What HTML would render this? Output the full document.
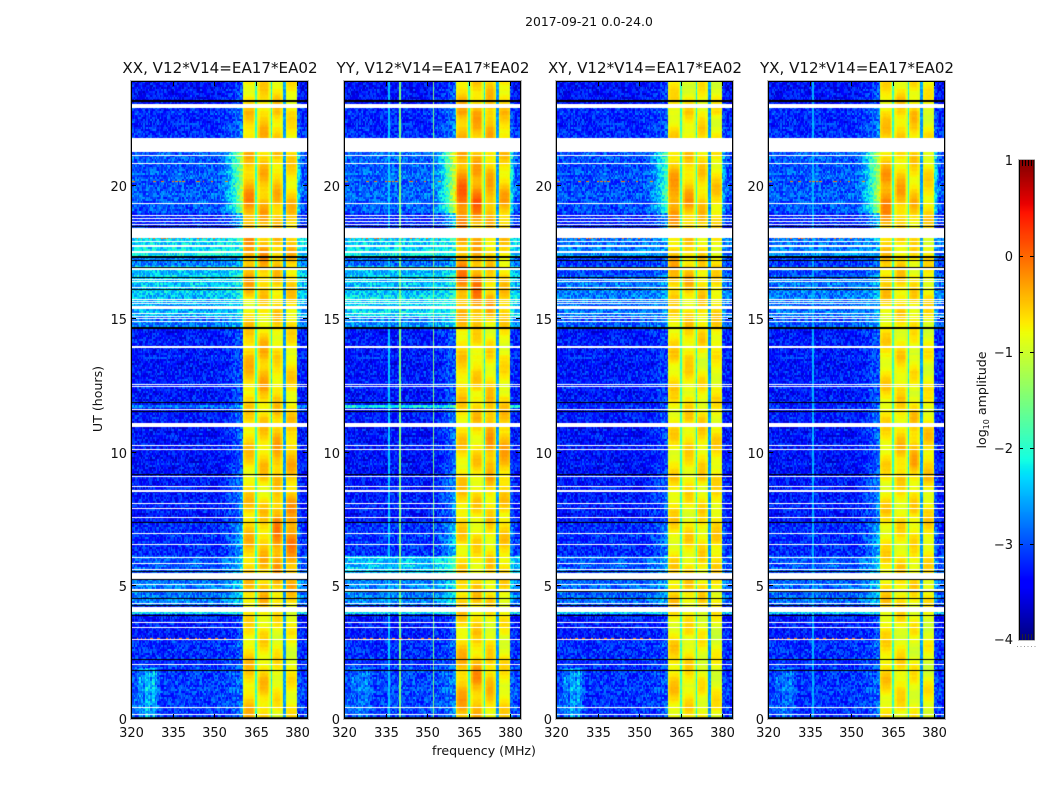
<!DOCTYPE html>
<html lang="en">
<head>
<meta charset="utf-8">
<title>2017-09-21 amplitude waterfall</title>
<style>
html,body{margin:0;padding:0;background:#fff;width:1050px;height:800px;overflow:hidden}
#figure{position:relative;width:1050px;height:800px;background:#fff}
canvas{position:absolute;display:block}
svg{position:absolute;left:0;top:0}
text{font-family:"DejaVu Sans","Liberation Sans",sans-serif;fill:#111}
</style>
</head>
<body>
<div id="figure">
<canvas id="p0" width="177" height="638" style="left:131px;top:81px"></canvas>
<canvas id="p1" width="177" height="638" style="left:344px;top:81px"></canvas>
<canvas id="p2" width="177" height="638" style="left:556px;top:81px"></canvas>
<canvas id="p3" width="177" height="638" style="left:768px;top:81px"></canvas>
<canvas id="cbar" width="15" height="480" style="left:1019px;top:160px"></canvas>
<svg id="overlay" width="1050" height="800">
<text x="589" y="26" text-anchor="middle" font-size="12.4">2017-09-21 0.0-24.0</text>
<text x="484" y="755" text-anchor="middle" font-size="12.6">frequency (MHz)</text>
<text transform="translate(102,399) rotate(-90)" text-anchor="middle" font-size="12.6">UT (hours)</text>
<text transform="translate(986,400) rotate(-90)" text-anchor="middle" font-size="12.6">log<tspan font-size="8" dy="3">10</tspan><tspan dy="-3"> amplitude</tspan></text>
</svg>
</div>
<script>
/* ---------- labels and ticks ---------- */
const panelTitles = ["XX, V12*V14=EA17*EA02","YY, V12*V14=EA17*EA02","XY, V12*V14=EA17*EA02","YX, V12*V14=EA17*EA02"];
const freqTicks = [320,335,350,365,380];
const utTicks = [0,5,10,15,20];
const colorbarTicks = [1,0,-1,-2,-3,-4];

/* ---------- flagged / dropped rows (UT hours) ---------- */
const whiteBands = [[23.08,22.91],[21.81,21.26],[21.16,21.13],[20.88,20.85],[19.37,19.34],[18.90,18.87],[18.81,18.78],[18.70,18.66],[18.58,18.55],[18.41,18.04],[17.92,17.89],[17.79,17.72],[17.56,17.49],[17.21,17.18],[16.91,16.86],[16.52,16.49],[16.45,16.39],[16.20,16.17],[15.77,15.74],[15.69,15.66],[15.61,15.58],[15.50,15.38],[15.24,15.21],[15.11,15.08],[15.03,15.00],[14.92,14.89],[14.01,13.98],[13.94,13.91],[12.57,12.54],[12.49,12.46],[11.64,11.61],[11.12,10.94],[10.27,10.24],[10.13,10.10],[9.12,9.09],[8.75,8.72],[8.60,8.57],[8.54,8.51],[8.10,8.07],[7.93,7.90],[7.58,7.55],[6.98,6.95],[6.57,6.54],[6.08,6.05],[5.85,5.82],[5.63,5.60],[5.49,5.25],[5.08,5.05],[4.88,4.80],[4.35,4.32],[4.21,4.02],[3.64,3.61],[3.46,3.43],[3.01,2.98],[2.07,2.04],[0.46,0.43],[0.20,0.17]];
const blackBands = [[23.21,23.17],[18.51,18.48],[17.37,17.31],[17.23,17.20],[16.97,16.94],[16.58,16.55],[16.15,16.11],[14.72,14.65],[11.88,11.85],[11.56,11.53],[9.19,9.16],[7.39,7.36],[5.54,5.51],[5.24,5.21],[4.79,4.76],[4.54,4.51],[4.27,4.24],[3.92,3.88],[2.25,2.22],[1.85,1.80],[0.07,0.03]];

/* ---------- low band level (log10) per UT segment ---------- */
const segmentEdges = [0,2,3,3.93,4,4.25,5.25,6.1,7.4,9,11,11.66,11.8,14.7,15.1,15.9,16.5,17,17.3,18.4,19,21.3,23,24];
const lowXX = [-3.1,-3.2,-3.3,-2.2,-3.15,-2.8,-2.95,-3.2,-3.3,-3.35,-3.3,-2.8,-3.3,-2.8,-2.5,-2.4,-2.35,-2.8,-2.25,-3.2,-2.95,-3.2,-3.35];
const lowYY = [-3.05,-3.2,-3.3,-2.2,-3.15,-2.75,-2.45,-3.15,-3.3,-3.35,-3.3,-2.2,-3.3,-2.7,-2.3,-2.45,-2.4,-2.9,-2.3,-3.2,-2.9,-3.2,-3.35];
const lowXY = [-3.15,-3.2,-3.3,-2.3,-3.2,-2.9,-2.95,-3.2,-3.3,-3.35,-3.3,-3.2,-3.3,-2.95,-2.8,-2.8,-2.95,-3.15,-2.75,-3.2,-3.0,-3.2,-3.35];
const lowYX = [-3.15,-3.2,-3.3,-2.3,-3.2,-2.9,-2.95,-3.2,-3.3,-3.35,-3.3,-3.2,-3.3,-2.95,-2.8,-2.8,-2.95,-3.15,-2.75,-3.2,-2.95,-3.2,-3.35];
const edgeRiseBySegment = [.3,.3,.3,.2,.3,.5,.7,.7,.6,.5,.5,.3,.35,.4,.3,.3,.3,.3,.3,.9,1.8,.5,.4];
const panelEdgeGain = [1,1.15,0.7,1.05];

/* ---------- high band level (log10): one row per block, one value per UT hour ---------- */
const xxBlocks = [
[-.45,-.55,-.5,-.7,-.5,-.5,-.45,-.5,-.55,-.6,-.5,-.6,-.5,-.4,-.5,-.7,-.3,-.25,-.3,-.2,-.4,-.5,-.5,-.65],
[-.5,-.5,-.6,-.65,-.45,-.5,-.4,-.55,-.6,-.5,-.5,-.55,-.4,-.35,-.55,-.65,-.4,-.3,-.4,-.35,-.45,-.5,-.4,-.6],
[-.7,-.65,-.7,-.75,-.5,-.35,-.15,-.15,-.55,-.35,-.35,-.5,-.55,-.65,-.6,-.5,-.5,-.4,-.4,-.4,-.5,-.5,-.45,-.6],
[-.65,-.7,-.75,-.8,-.55,-.3,-.15,-.15,-.5,-.4,-.45,-.6,-.6,-.6,-.65,-.55,-.55,-.45,-.45,-.5,-.6,-.6,-.65,-.65]];
const yyBlocks = [
[-.35,-.4,-.45,-.6,-.45,-.6,-.6,-.55,-.5,-.6,-.55,-.55,-.55,-.55,-.6,-.35,-.1,-.3,-.2,.1,-.2,-.4,-.35,-.5],
[-.45,-.2,-.5,-.6,-.5,-.6,-.65,-.6,-.6,-.55,-.6,-.5,-.6,-.55,-.65,-.15,-.1,-.4,-.3,.05,-.35,-.45,-.35,-.5],
[-.55,-.4,-.6,-.7,-.6,-.55,-.6,-.55,-.55,-.35,-.3,-.3,-.6,-.6,-.7,-.3,-.5,-.55,-.45,-.25,-.45,-.5,-.3,-.5],
[-.6,-.65,-.7,-.75,-.65,-.55,-.55,-.55,-.55,-.4,-.35,-.5,-.65,-.65,-.7,-.4,-.55,-.6,-.45,-.35,-.55,-.55,-.5,-.6]];
const xyBlocks = [
[-.6,-.5,-.55,-.7,-.5,-.6,-.65,-.6,-.6,-.65,-.6,-.65,-.6,-.6,-.55,-.65,-.3,-.5,-.4,-.15,-.4,-.6,-.6,-.7],
[-.65,-.6,-.65,-.7,-.55,-.6,-.6,-.65,-.65,-.6,-.6,-.6,-.6,-.6,-.55,-.6,-.4,-.55,-.5,-.3,-.5,-.6,-.6,-.7],
[-.7,-.7,-.75,-.75,-.6,-.6,-.6,-.6,-.65,-.55,-.55,-.6,-.7,-.7,-.55,-.55,-.55,-.6,-.55,-.45,-.55,-.6,-.6,-.7],
[-.7,-.75,-.8,-.8,-.65,-.6,-.55,-.6,-.65,-.6,-.6,-.65,-.7,-.75,-.6,-.55,-.6,-.65,-.6,-.5,-.6,-.7,-.7,-.75]];
const yxBlocks = [
[-.6,-.55,-.55,-.7,-.55,-.6,-.65,-.6,-.6,-.65,-.6,-.65,-.6,-.6,-.65,-.65,-.4,-.55,-.4,-.1,-.35,-.6,-.5,-.65],
[-.65,-.6,-.65,-.7,-.55,-.6,-.6,-.65,-.65,-.5,-.5,-.6,-.6,-.6,-.65,-.6,-.5,-.6,-.55,-.3,-.5,-.6,-.45,-.65],
[-.7,-.7,-.75,-.75,-.6,-.6,-.65,-.6,-.6,-.4,-.4,-.55,-.7,-.7,-.7,-.6,-.6,-.65,-.55,-.45,-.55,-.6,-.45,-.65],
[-.7,-.75,-.8,-.8,-.7,-.65,-.6,-.6,-.65,-.5,-.5,-.65,-.75,-.75,-.75,-.65,-.65,-.7,-.6,-.55,-.65,-.7,-.7,-.75]];
const blockStarts = [360.4,365.7,370.9,375.8];
const blockEnds = [365.1,370.3,374.9,380.2];
const notchLevels = [-1.9,-2.1,-2.6];
const blockEdgeLevel = -1.0;

/* ---------- smaller features seen in the picture ---------- */
const panelLines = [[],[336.25,340.25,352.25],[],[336.25]];
const panelLineLevels = [[],[-2.4,-1.5,-1.5],[],[-2.5]];
const leftStreaks = [.1,.1,.2,.15,.2,.3,.5,.35,.55,.25,.65,.75,.55,.8,.4,.7,.75,.25,.55,.15,.15,.1];
const panelStreakGain = [1,.45,.9,.55];
const rfiHours = [3.02,20.17,18.02];
/* Illustrative fine-grain texture, hand-written: the per-channel noise in the picture is too fine to read. */
const textureSample = [.12,-.28,.05,.31,-.14,-.33,.22,-.05,.36,-.21,.02,-.38,.17,.29,-.1,-.24,.08,.41,-.31,-.02,.19,-.17,.33,-.27,.1,-.36,.25,-.07,.14,-.22,.38,-.12,-.3,.04,.27,-.19,.16,-.34,.07,.21,-.26,.34,-.04,-.15,.44,-.29,.01,.24,-.37,.13,-.09,.3,-.23,.06,.18,-.32,.39,-.11,-.2,.09,.26];
/* Illustrative bubble pattern inside the high band blocks, hand-written. */
const rippleSample = [.12,.18,.1,-.06,-.18,-.2,-.05,.14,.2,.12,-.08,-.2,-.14,.04,.18,.16,0,-.16,-.22,-.06,.12,.2,.08,-.12,-.2,-.08,.1,.18,.12,-.04,-.16,-.12];

const lowByPanel = [lowXX,lowYY,lowXY,lowYX];
const blocksByPanel = [xxBlocks,yyBlocks,xyBlocks,yxBlocks];

/* ---------- axis functions ---------- */
const panelLefts = [131,344,556,768];
const pxPerMHz = 2.767, pxPerHour = 26.65, axisBottom = 719, axisTop = 81, axisWidth = 177;
const xScale = (p,f) => panelLefts[p] + (f-320)*pxPerMHz;
const yScale = t => axisBottom - t*pxPerHour;
const hourAtRow = j => (axisBottom-(axisTop+j+.5))/pxPerHour;
const cbarY = v => 160 + (1-v)*96;

function lerpStops(stops,t){
  for(let k=1;k<stops.length;k++){
    if(t<=stops[k][0]){
      const a=stops[k-1],b=stops[k];
      return a[1]+(b[1]-a[1])*(t-a[0])/(b[0]-a[0]);
    }
  }
  return stops[stops.length-1][1];
}
const jetR=[[0,0],[.35,0],[.66,1],[.89,1],[1,.5]];
const jetG=[[0,0],[.125,0],[.375,1],[.64,1],[.91,0],[1,0]];
const jetB=[[0,.5],[.11,1],[.34,1],[.65,0],[1,0]];
function jet(v){
  const t=Math.max(0,Math.min(1,(v+4)/5));
  return [lerpStops(jetR,t)*255,lerpStops(jetG,t)*255,lerpStops(jetB,t)*255];
}
function segmentOf(t){
  for(let s=0;s<segmentEdges.length-1;s++){ if(t<segmentEdges[s+1]) return s; }
  return segmentEdges.length-2;
}
function blockLevel(p,b,t){
  const arr=blocksByPanel[p][b];
  const x=Math.max(0,Math.min(arr.length-1.001,t-.5));
  const k=Math.floor(x);
  return arr[k]+(arr[k+1]-arr[k])*(x-k);
}
function rippleAt(t,offset){
  const x=t/.25+offset, k=Math.floor(x), n=rippleSample.length;
  const a=rippleSample[k%n], b=rippleSample[(k+1)%n];
  return a+(b-a)*(x-k);
}
function cellLevel(p,f,t,i,j){
  const row=j>>1;
  const noise=textureSample[(i*29+row*37+(i*row)%13)%textureSample.length];
  const rowNoise=textureSample[(row*7)%textureSample.length];
  const seg=segmentOf(t);
  const low=lowByPanel[p][seg];
  const rise=edgeRiseBySegment[seg]*panelEdgeGain[p];
  if(f>=blockStarts[0] && f<=blockEnds[3]){
    for(let b=0;b<4;b++){
      if(f>=blockStarts[b] && f<=blockEnds[b]){
        const d=Math.min(f-blockStarts[b],blockEnds[b]-f);
        const centre=blockLevel(p,b,t)+rippleAt(t,b*9+p*5)-.06;
        const w=Math.min(1,d/1.3);
        return blockEdgeLevel+(centre-blockEdgeLevel)*w*(2-w)+noise*.06+rowNoise*.1;
      }
    }
    for(let b=0;b<3;b++){
      if(f>blockEnds[b] && f<blockStarts[b+1]) return notchLevels[b]+noise*.4;
    }
  }
  let v=low+noise+rowNoise*.15;
  if(f<blockStarts[0] && f>350) v+=rise*Math.pow((f-350)/10.4,2);
  if(f>blockEnds[3] && f<381.8) v+=rise*.5*(381.8-f)/1.6;
  if(t<1.9 && f<331){
    const q=Math.min(leftStreaks.length-1,Math.floor((f-320)*2));
    v+=leftStreaks[q]*panelStreakGain[p];
  }
  panelLines[p].forEach((lineF,n)=>{
    if(Math.abs(f-lineF)<.2) v=Math.max(v,panelLineLevels[p][n]+noise*.2);
  });
  for(const h of rfiHours){
    if(Math.abs(t-h)<.02 && f<355 && noise>.2) v=-.4+noise;
  }
  return v;
}

/* ---------- heatmaps ---------- */
function drawPanel(p){
  const channels=128, rows=638;
  const off=document.createElement('canvas');
  off.width=channels; off.height=rows;
  const octx=off.getContext('2d');
  const img=octx.createImageData(channels,rows);
  for(let j=0;j<rows;j++){
    const t=hourAtRow(j);
    for(let i=0;i<channels;i++){
      const f=320+(i+.5)*.5;
      const c=jet(cellLevel(p,f,t,i,j));
      const o=(j*channels+i)*4;
      img.data[o]=c[0];img.data[o+1]=c[1];img.data[o+2]=c[2];img.data[o+3]=255;
    }
  }
  octx.putImageData(img,0,0);
  const ctx=document.getElementById('p'+p).getContext('2d');
  ctx.imageSmoothingEnabled=false;
  ctx.drawImage(off,0,0,axisWidth,rows);
  const paint=(bands,color)=>{
    ctx.fillStyle=color;
    for(const b of bands){
      const y0=Math.round(yScale(b[0])-axisTop);
      const y1=Math.max(y0+1,Math.round(yScale(b[1])-axisTop));
      ctx.fillRect(0,y0,axisWidth,y1-y0);
    }
  };
  paint(whiteBands,'#fff');
  paint(blackBands,'#000');
}
[0,1,2,3].forEach(drawPanel);

/* ---------- colorbar gradient ---------- */
(function(){
  const ctx=document.getElementById('cbar').getContext('2d');
  for(let y=0;y<480;y++){
    const c=jet(1-(y+.5)/96);
    ctx.fillStyle='rgb('+c.map(Math.round).join(',')+')';
    ctx.fillRect(0,y,15,1);
  }
})();

/* ---------- axes, ticks and labels ---------- */
const svg=document.getElementById('overlay');
const NS='http://www.w3.org/2000/svg';
function line(x1,y1,x2,y2,color,width){
  const el=document.createElementNS(NS,'line');
  el.setAttribute('x1',x1);el.setAttribute('y1',y1);el.setAttribute('x2',x2);el.setAttribute('y2',y2);
  el.setAttribute('stroke',color||'#000');el.setAttribute('stroke-width',width||1);
  svg.appendChild(el);
  return el;
}
function label(x,y,str,anchor,size){
  const el=document.createElementNS(NS,'text');
  el.setAttribute('x',x);el.setAttribute('y',y);
  el.setAttribute('text-anchor',anchor);el.setAttribute('font-size',size);
  el.textContent=str;
  svg.appendChild(el);
  return el;
}
function frame(x,y,w,h,color,width){
  const el=document.createElementNS(NS,'rect');
  el.setAttribute('x',x);el.setAttribute('y',y);el.setAttribute('width',w);el.setAttribute('height',h);
  el.setAttribute('fill','none');el.setAttribute('stroke',color);el.setAttribute('stroke-width',width);
  svg.appendChild(el);
  return el;
}
panelTitles.forEach((title,p)=>{
  const L=panelLefts[p];
  const halo=frame(L-.5,axisTop-.5,axisWidth+1,axisBottom-axisTop+1,'#bbb',1);
  
  
  const box=frame(L+.5,axisTop+.5,axisWidth-1,axisBottom-axisTop-1,'#000',1);
  
  
  const head=label(L+89,73,title,'middle',15.1);
  
  
  freqTicks.forEach(f=>{
    const x=Math.round(xScale(p,f))+.5;
    const bottom=line(x,axisBottom,x,axisBottom-5);
    
    
    const top=line(x,axisTop,x,axisTop+5);
    
    
    const lab=label(x,737,String(f),'middle',13);
    
    
  });
  utTicks.forEach(t=>{
    const y=Math.round(yScale(t))-.5;
    const left=line(L,y,L+5,y);
    
    
    const right=line(L+axisWidth,y,L+axisWidth-5,y);
    
    
    const lab=label(L-4,y+5.5,String(t),'end',13);
    
    
  });
});
const cbHalo=frame(1018.5,159.5,16,481,'#bbb',1);


const cbLeft=line(1019.5,160,1019.5,640,'#000',1);


const cbRight=line(1034,160,1034,640,'#000',1);


colorbarTicks.forEach(v=>{
  const y=Math.round(cbarY(v))+(v===1?.5:v===-4?-.5:.5);
  if(v!==1 && v!==-4){
    const a=line(1019,y,1023,y);
    
    
    const b=line(1030,y,1034,y);
    
    
  }
  const lab=label(1013,y+4.5,String(v).replace('-','\u2212'),'end',13);
  
  
});
[1022.5,1025.5,1028.5,1031.5].forEach(x=>{
  const up=line(x,160,x,166,'#000',1);
  
  
  const dn=line(x,640,x,634,'#223',1);
  
  
});
const dots=line(1017,646.5,1036,646.5,'#999',1);
dots.setAttribute('stroke-dasharray','1 2.5');


</script>
</body>
</html>
